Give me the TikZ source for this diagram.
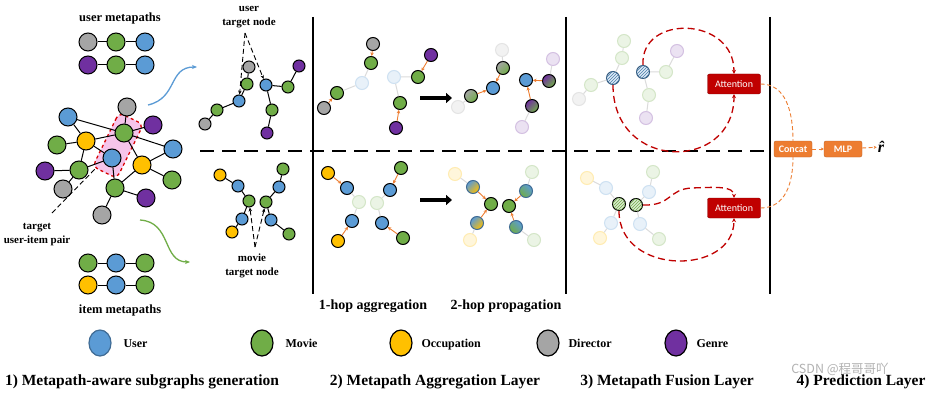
\documentclass[tikz,border=0pt]{standalone}
\usepackage{fontspec}
\setmainfont{Liberation Serif}
\newfontfamily\calib{Carlito}
\newfontfamily\cjkf{Noto Sans CJK SC}
\usetikzlibrary{arrows.meta,patterns,shapes.geometric}
\definecolor{ublue}{HTML}{5B9BD5}
\definecolor{mgreen}{HTML}{70AD47}
\definecolor{oyel}{HTML}{FFC000}
\definecolor{dgray}{HTML}{A5A5A5}
\definecolor{gpur}{HTML}{7030A0}
\definecolor{orng}{HTML}{ED7D31}
\definecolor{dred}{HTML}{C00000}
\definecolor{pinkfill}{HTML}{F6C4EA}
\tikzset{
  nd/.style={circle,draw=black,line width=1pt,inner sep=0pt,minimum size=18pt},
  sz/.style={minimum size=#1},
  ndU/.style={nd,fill=ublue},
  ndM/.style={nd,fill=mgreen},
  ndO/.style={nd,fill=oyel},
  ndD/.style={nd,fill=dgray},
  ndG/.style={nd,fill=gpur},
  fnode/.style={circle,inner sep=0pt,minimum size=13pt,line width=1pt,draw=#1!30,fill=#1!14},
  mix/.style 2 args={nd,sz=13pt,top color=#1,bottom color=#2,shading angle=45},
  hatchu/.style={nd,sz=13pt,draw=ublue!60!black,fill=ublue!20,postaction={pattern=north east lines,pattern color=ublue!80!black}},
  hatchg/.style={nd,sz=13pt,draw=black,fill=mgreen!25,postaction={pattern=north east lines,pattern color=mgreen}},
  egl/.style={line width=1pt,black},
  fedge/.style={line width=1pt,black!14},
  oarr/.style={orng,line width=0.9pt,-{Stealth[length=3.5pt,width=3.5pt]}},
  bigarr/.style={line width=3.2pt,-{Triangle[length=6pt,width=10pt]}},
  ptr/.style={line width=0.9pt,dash pattern=on 5pt off 3pt},
  reddash/.style={dred,line width=1.3pt,dash pattern=on 7pt off 4pt,-{Stealth[length=4pt,width=4pt]}},
  odash/.style={orng,line width=0.9pt,dash pattern=on 4pt off 2.5pt},
  lbl/.style={font=\bfseries\fontsize{11}{14}\selectfont,align=center},
  captxt/.style={font=\bfseries\fontsize{15.5}{17}\selectfont},
  legtxt/.style={font=\bfseries\fontsize{12}{14}\selectfont,anchor=base west},
  lege/.style={ellipse,draw=black,line width=1.2pt,minimum width=22pt,minimum height=26pt,inner sep=0pt},
  attn/.style={draw=dred!70!black,fill=dred,rounded corners=2pt,minimum width=53pt,minimum height=20pt,text=white,font=\calib\fontsize{10}{12}\selectfont,inner sep=0pt},
  obox/.style={draw=orng!80!black,fill=orng,rounded corners=2pt,minimum width=38pt,minimum height=16pt,text=white,font=\calib\bfseries\fontsize{10}{12}\selectfont,inner sep=0pt},
  rlab/.style={font=\bfseries\itshape\fontsize{16}{18}\selectfont,inner sep=1pt},
}
\begin{document}
\begin{tikzpicture}[x=1pt,y=-1pt]
\useasboundingbox (0,0) rectangle (928,393);
\fill[white] (0,0) rectangle (928,393);

% ---------- section 1: metapaths ----------
\node[font=\bfseries\fontsize{12.5}{14}\selectfont] (umt) at (120,18) {user metapaths};
\node[ndD] (ua1) at (88,42) {}; \node[ndM] (ua2) at (116,42) {}; \node[ndU] (ua3) at (145,42) {};
\node[ndG] (ub1) at (88,65) {}; \node[ndM] (ub2) at (116,65) {}; \node[ndU] (ub3) at (145,65) {};
\draw[egl] (ua1)--(ua2)--(ua3); \draw[egl] (ub1)--(ub2)--(ub3);

\node[ndM] (ia1) at (88,263) {}; \node[ndU] (ia2) at (116,263) {}; \node[ndM] (ia3) at (145,263) {};
\node[ndO] (ib1) at (88,285) {}; \node[ndU] (ib2) at (116,285) {}; \node[ndM] (ib3) at (145,285) {};
\draw[egl] (ia1)--(ia2)--(ia3); \draw[egl] (ib1)--(ib2)--(ib3);
\node[font=\bfseries\fontsize{12.5}{14}\selectfont] (imt) at (120,310) {item metapaths};

% ---------- big graph ----------
\node[rectangle,rounded corners=6pt,fill=pinkfill,draw=red!85!black,dashed,line width=1.3pt,minimum width=60pt,minimum height=27pt,rotate=64] (pair) at (118,145.5) {};
\node[ndD] (gT) at (127,107) {};
\node[ndU] (bTL) at (68,117) {};
\node[ndG] (pTR) at (153,125) {};
\node[ndM] (gC) at (124,133) {};
\node[ndO] (yL) at (86,141) {};
\node[ndM] (gFL) at (57,145) {};
\node[ndU] (bR) at (173,149) {};
\node[ndU] (bC) at (112,158) {};
\node[ndO] (yR) at (142,165) {};
\node[ndG] (pL) at (45,171) {};
\node[ndM] (gML) at (79,170) {};
\node[ndM] (gRB) at (172,180) {};
\node[ndD] (grL) at (63,189) {};
\node[ndM] (gB) at (115,188) {};
\node[ndG] (pB) at (146,198) {};
\node[ndD] (grB) at (102,215) {};
\draw[egl] (bTL)--(gC) (bTL)--(yL) (gT)--(gC) (gC)--(pTR) (yL)--(gC) (gC)--(bR) (gC)--(yR)
  (yL)--(gFL) (yL)--(gML) (yL)--(bC) (gML)--(pL) (gML)--(grL) (gML)--(bC) (bC)--(gB)
  (yR)--(bR) (yR)--(gRB) (yR)--(gB) (gB)--(pB) (gB)--(grB);
\coordinate (ptrS) at (52,213);
\draw[ptr] (ptrS)--(pair);
\node[lbl] (tuip) at (37,235) {target\\user-item pair};

% curved arrows
\coordinate (bs) at (148,105); \coordinate (be) at (197,67);
\draw[ublue,line width=1.3pt,-{Stealth[length=5pt,width=4pt]}] (bs) .. controls (178,98) and (168,67) .. (be);
\coordinate (gs) at (140,220); \coordinate (ge) at (190,262);
\draw[mgreen,line width=1.3pt,-{Stealth[length=5pt,width=4pt]}] (gs) .. controls (172,222) and (162,262) .. (ge);

% ---------- user subgraphs ----------
\node[ndD,sz=12pt] (s1a) at (249,67) {};
\node[ndM,sz=12pt] (s1b) at (247,84) {};
\node[ndU,sz=12pt] (s1c) at (239,101) {};
\node[ndM,sz=12pt] (s1d) at (217,110) {};
\node[ndD,sz=12pt] (s1e) at (205,124) {};
\draw[egl] (s1a)--(s1b)--(s1c)--(s1d)--(s1e);
\node[ndU,sz=12pt] (s2a) at (266,85) {};
\node[ndM,sz=12pt] (s2b) at (288,87) {};
\node[ndG,sz=12pt] (s2c) at (299,66) {};
\node[ndM,sz=12pt] (s2d) at (272,110) {};
\node[ndG,sz=12pt] (s2e) at (267,133) {};
\draw[egl] (s2a)--(s2b)--(s2c) (s2a)--(s2d)--(s2e);
\node[lbl] (utn) at (249,17) {user\\target node};
\coordinate (uap) at (245,33);
\draw[ptr,-{Stealth[length=4pt,width=3.5pt]}] (uap)--(s1c);
\draw[ptr,-{Stealth[length=4pt,width=3.5pt]}] (uap)--(s2a);

% ---------- item subgraphs ----------
\node[ndO,sz=12pt] (t1a) at (220,175) {};
\node[ndU,sz=12pt] (t1b) at (238,186) {};
\node[ndM,sz=12pt] (t1c) at (249,201) {};
\node[ndU,sz=12pt] (t1d) at (242,219) {};
\node[ndO,sz=12pt] (t1e) at (232,232) {};
\draw[egl] (t1a)--(t1b)--(t1c)--(t1d)--(t1e);
\node[ndM,sz=12pt] (t2a) at (283,169) {};
\node[ndU,sz=12pt] (t2b) at (279,187) {};
\node[ndM,sz=12pt] (t2c) at (266,202) {};
\node[ndU,sz=12pt] (t2d) at (271,220) {};
\node[ndM,sz=12pt] (t2e) at (289,234) {};
\draw[egl] (t2a)--(t2b)--(t2c)--(t2d)--(t2e);
\node[lbl] (mtn) at (252,266) {movie\\target node};
\coordinate (map) at (255,247);
\draw[ptr,-{Stealth[length=4pt,width=3.5pt]}] (map)--(t1c);
\draw[ptr,-{Stealth[length=4pt,width=3.5pt]}] (map)--(t2c);

% ---------- dividers ----------
\draw[line width=1.4pt] (313,17)--(313,294);
\draw[line width=1.4pt] (566,17)--(566,294);
\draw[line width=1.4pt] (770,17)--(770,294);
\draw[line width=1.6pt,dash pattern=on 14pt off 8pt] (200,151)--(770,151);

% ---------- section 2 top: 1-hop ----------
\node[ndD,sz=13pt] (a1a) at (373,44) {};
\node[ndM,sz=13pt] (a1b) at (371,63) {};
\node[fnode=ublue] (a1c) at (362,83) {};
\node[ndM,sz=13pt] (a1d) at (337,93) {};
\node[ndD,sz=13pt] (a1e) at (324,108) {};
\draw[fedge] (a1b)--(a1c)--(a1d);
\draw[oarr] (a1a)--(a1b); \draw[oarr] (a1e)--(a1d);
\node[fnode=ublue] (a2a) at (394,77) {};
\node[ndM,sz=13pt] (a2b) at (418,77) {};
\node[ndG,sz=13pt] (a2c) at (431,55) {};
\node[ndM,sz=13pt] (a2d) at (400,103) {};
\node[ndG,sz=13pt] (a2e) at (396,128) {};
\draw[fedge] (a2a)--(a2b) (a2a)--(a2d);
\draw[oarr] (a2c)--(a2b); \draw[oarr] (a2e)--(a2d);
\coordinate (ba1) at (420,98); \coordinate (ba2) at (452,98);
\draw[bigarr] (ba1)--(ba2);

% 2-hop top
\node[fnode=dgray] (p1a) at (502,50) {};
\node[mix={dgray}{mgreen}] (p1b) at (503,68) {};
\node[ndU,sz=13pt] (p1c) at (493,88) {};
\node[mix={dgray}{mgreen}] (p1d) at (471,96) {};
\node[fnode=dgray] (p1e) at (458,107) {};
\draw[fedge] (p1a)--(p1b) (p1d)--(p1e);
\draw[oarr] (p1b)--(p1c); \draw[oarr] (p1d)--(p1c);
\node[ndU,sz=13pt] (p2a) at (526,80) {};
\node[mix={gpur}{mgreen}] (p2b) at (549,81) {};
\node[fnode=gpur] (p2c) at (553,59) {};
\node[mix={gpur}{mgreen}] (p2d) at (532,106) {};
\node[fnode=gpur] (p2e) at (522,127) {};
\draw[fedge] (p2c)--(p2b) (p2d)--(p2e);
\draw[oarr] (p2b)--(p2a); \draw[oarr] (p2d)--(p2a);

% ---------- section 2 bottom ----------
\node[ndO,sz=13pt] (c1a) at (328,173) {};
\node[ndU,sz=13pt] (c1b) at (347,188) {};
\node[fnode=mgreen] (c1c) at (359,202) {};
\node[ndU,sz=13pt] (c1d) at (352,221) {};
\node[ndO,sz=13pt] (c1e) at (338,241) {};
\draw[fedge] (c1b)--(c1c)--(c1d);
\draw[oarr] (c1a)--(c1b); \draw[oarr] (c1e)--(c1d);
\node[ndM,sz=13pt] (c2a) at (401,168) {};
\node[ndU,sz=13pt] (c2b) at (390,190) {};
\node[fnode=mgreen] (c2c) at (377,203) {};
\node[ndU,sz=13pt] (c2d) at (382,223) {};
\node[ndM,sz=13pt] (c2e) at (403,238) {};
\draw[fedge] (c2b)--(c2c)--(c2d);
\draw[oarr] (c2a)--(c2b); \draw[oarr] (c2e)--(c2d);
\coordinate (bb1) at (420,200); \coordinate (bb2) at (452,200);
\draw[bigarr] (bb1)--(bb2);

\node[fnode=oyel] (q1a) at (455,174) {};
\node[mix={ublue}{oyel},draw=ublue!70!black] (q1b) at (473,187) {};
\node[ndM,sz=13pt] (q1c) at (491,204) {};
\node[mix={ublue}{oyel},draw=ublue!70!black] (q1d) at (477,223) {};
\node[fnode=oyel] (q1e) at (470,240) {};
\draw[fedge] (q1a)--(q1b) (q1d)--(q1e);
\draw[oarr] (q1b)--(q1c); \draw[oarr] (q1d)--(q1c);
\node[fnode=mgreen] (q2a) at (532,172) {};
\node[mix={ublue}{mgreen},draw=ublue!70!black,shading angle=-45] (q2b) at (526,191) {};
\node[ndM,sz=13pt] (q2c) at (509,206) {};
\node[mix={ublue}{mgreen},draw=ublue!70!black,shading angle=-45] (q2d) at (516,227) {};
\node[fnode=mgreen] (q2e) at (534,240) {};
\draw[fedge] (q2a)--(q2b) (q2d)--(q2e);
\draw[oarr] (q2b)--(q2c); \draw[oarr] (q2d)--(q2c);

\node[font=\bfseries\fontsize{14}{16}\selectfont] (hop1) at (373,306) {1-hop aggregation};
\node[font=\bfseries\fontsize{14}{16}\selectfont] (hop2) at (506,306) {2-hop propagation};

% ---------- section 3 top ----------
\node[fnode=mgreen] (f1a) at (624,41) {};
\node[fnode=mgreen] (f1b) at (622,58) {};
\node[hatchu] (h1) at (613,78) {};
\node[fnode=mgreen] (f1d) at (591,85) {};
\node[fnode=dgray] (f1e) at (579,99) {};
\draw[fedge] (f1a)--(f1b)--(h1)--(f1d)--(f1e);
\node[hatchu] (h2) at (643,72) {};
\node[fnode=mgreen] (f2b) at (666,72) {};
\node[fnode=gpur] (f2c) at (677,51) {};
\node[fnode=mgreen] (f2d) at (649,95) {};
\node[fnode=gpur] (f2e) at (646,118) {};
\draw[fedge] (h2)--(f2b)--(f2c) (h2)--(f2d)--(f2e);
\node[attn] (att1) at (734,84) {Attention};
\draw[reddash] (h2.north) .. controls (640,14) and (734,16) .. (att1.north);
\draw[reddash] (h1.south) .. controls (613,172) and (734,172) .. (att1.south);

% section 3 bottom
\node[fnode=oyel] (g1a) at (587,178) {};
\node[fnode=ublue] (g1b) at (606,188) {};
\node[hatchg] (h3) at (619,204) {};
\node[fnode=ublue] (g1d) at (611,223) {};
\node[fnode=oyel] (g1e) at (600,238) {};
\draw[fedge] (g1a)--(g1b)--(h3)--(g1d)--(g1e);
\node[fnode=mgreen] (g2a) at (653,172) {};
\node[fnode=ublue] (g2b) at (649,192) {};
\node[hatchg] (h4) at (636,205) {};
\node[fnode=ublue] (g2d) at (640,224) {};
\node[fnode=mgreen] (g2e) at (659,239) {};
\draw[fedge] (g2a)--(g2b)--(h4)--(g2d)--(g2e);
\node[attn] (att2) at (734,208) {Attention};
\draw[reddash] (h4.east) .. controls (672,206) and (668,189) .. (692,188) .. controls (716,187) and (734,186) .. (att2.north);
\draw[reddash] (h3.south) .. controls (619,276) and (734,276) .. (att2.south);

% ---------- section 4 ----------
\node[obox] (cc) at (793,149) {Concat};
\node[obox] (mlp) at (843,149) {MLP};
\node[rlab] (rhat) at (881,147) {r̂};
\draw[odash] (att1.east) .. controls (786,84) and (793,112) .. (cc.north);
\draw[odash] (att2.east) .. controls (786,208) and (793,182) .. (cc.south);
\draw[odash,-{Stealth[length=3pt,width=3pt]}] (cc)--(mlp);
\draw[odash,-{Stealth[length=3pt,width=3pt]}] (mlp)--(rhat);

% ---------- legend ----------
\node[lege,fill=ublue,draw=ublue!70!black] (lu) at (100,343) {};
\node[legtxt] (lut) at (120,347) {User};
\node[lege,fill=mgreen] (lm) at (262,343) {};
\node[legtxt] (lmt) at (282,347) {Movie};
\node[lege,fill=oyel] (lo) at (401,343) {};
\node[legtxt] (lot) at (418,347) {Occupation};
\node[lege,fill=dgray] (ld) at (548,343) {};
\node[legtxt] (ldt) at (565,347) {Director};
\node[lege,fill=gpur] (lg) at (676,343) {};
\node[legtxt] (lgt) at (693,347) {Genre};

% ---------- captions ----------
\node[captxt] (c1) at (142,382) {1) Metapath-aware subgraphs generation};
\node[captxt] (c2) at (435,382) {2) Metapath Aggregation Layer};
\node[captxt] (c3) at (667,382) {3) Metapath Fusion Layer};
\node[captxt] (c4) at (861,382) {4) Prediction Layer};
\node[text=black!30,font=\cjkf\fontsize{12.5}{14}\selectfont] (wm) at (840,369) {CSDN @程哥哥吖};
\end{tikzpicture}
\end{document}
